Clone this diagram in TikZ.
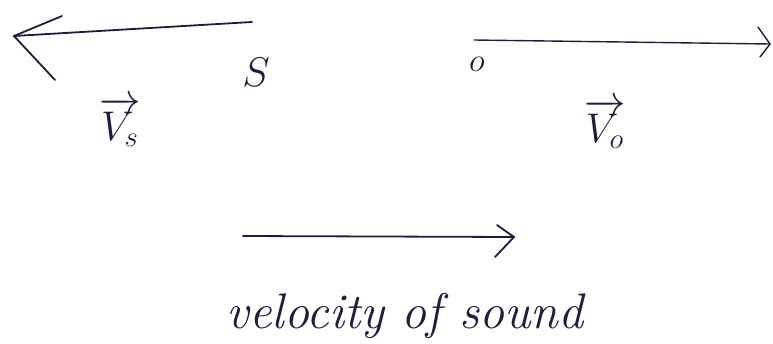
\documentclass[tikz,border=0pt]{standalone}
\usepackage{amsmath}
\usepackage{graphicx}
\definecolor{ink}{RGB}{28,30,62}
\tikzset{
  ink line/.style={draw=ink, line width=1.8pt, line cap=round, line join=round},
  lbl/.style={text=ink, inner sep=0pt, font=\fontsize{20.74}{24}\selectfont},
}
\begin{document}
\begin{tikzpicture}[x=1pt,y=-1pt]
\useasboundingbox (0,0) rectangle (773,343);
% source arrow (pointing left)
\coordinate (srcTail) at (252,22);
\coordinate (srcTip) at (14,36);
\coordinate (srcBarbA) at (62,16);
\coordinate (srcBarbB) at (55,80);
\draw[ink line] (srcTail) -- (srcTip);
\draw[ink line] (srcBarbA) -- (srcTip) -- (srcBarbB);
% observer arrow (pointing right)
\coordinate (obsTail) at (474,40);
\coordinate (obsTip) at (770,44);
\coordinate (obsBarbA) at (758,27);
\coordinate (obsBarbB) at (760,57);
\draw[ink line, line width=1.4pt] (obsTail) -- (obsTip);
\draw[ink line, line width=1.4pt] (obsBarbA) -- (obsTip) -- (obsBarbB);
% sound arrow
\coordinate (sndTail) at (243,236);
\coordinate (sndTip) at (514,237);
\coordinate (sndBarbA) at (497,225);
\coordinate (sndBarbB) at (495,257);
\draw[ink line] (sndTail) -- (sndTip);
\draw[ink line] (sndBarbA) -- (sndTip) -- (sndBarbB);
% labels
\node[lbl] (S) at (256,72) {\scalebox{2.0}{$S$}};
\node[lbl] (O) at (477,64) {\scalebox{1.6}{$o$}};
\node[lbl] (Vs) at (120,122) {\scalebox{2.0}{$\overrightarrow{V_s}$}};
\node[lbl] (Vo) at (605,124) {\scalebox{2.0}{$\overrightarrow{V_o}$}};
\node[lbl, font=\fontsize{50}{54}\selectfont\itshape] (vel) at (405,316) {velocity of sound};
\end{tikzpicture}
\end{document}
